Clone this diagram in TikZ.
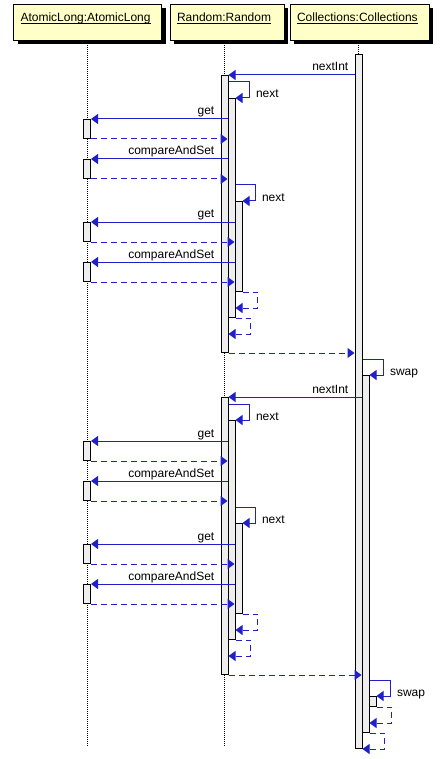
\documentclass[tikz,border=0pt]{standalone}
\usepackage{fontspec}
\setmainfont{Liberation Sans}
\usetikzlibrary{calc}
\usetikzlibrary{positioning}
\usetikzlibrary{shadows}
\usetikzlibrary{arrows.meta}
\definecolor{msgblue}{RGB}{32,32,200}
\definecolor{headyellow}{RGB}{255,255,200}
\definecolor{bargray}{RGB}{238,238,238}
\newcommand{\hdrul}[1]{\setbox0\hbox{#1}\rlap{\rule[-2.8pt]{\wd0}{0.9pt}}\box0}
\tikzset{
  head/.style={draw=black, line width=1pt, fill=headyellow, anchor=north west,
    inner xsep=7pt, inner ysep=0pt, text height=17pt, text depth=19pt, align=left,
    font=\fontsize{12}{14}\selectfont,
    general shadow={fill=black, shadow xshift=4pt, shadow yshift=-4pt}},
  bar/.style={draw=black, line width=1pt, fill=bargray, anchor=north,
    minimum width=7pt, inner sep=0pt},
  life/.style={line width=0.8pt, dash pattern=on 1pt off 1pt},
  msg/.style={draw=msgblue, line width=1pt, -{Triangle[length=7pt, width=10pt]}},
  ret/.style={msg, dash pattern=on 6pt off 4pt},
  lbl/.style={anchor=base east, inner sep=0pt, font=\fontsize{12}{14}\selectfont},
  selflbl/.style={anchor=base west, inner sep=0pt, xshift=6pt, font=\fontsize{12}{14}\selectfont}
}
\begin{document}
\begin{tikzpicture}[x=1pt, y=-1pt]
      \useasboundingbox (0,0) rectangle (442,759);
      \coordinate (bot) at (0,747);
      \coordinate (xr) at (224.5,0);
      \coordinate (xc) at (358.5,0);

      \node[head, text width=134pt] (al) at (13,4) {\hdrul{AtomicLong:AtomicLong}};
      \node[head, text width=100pt] (rd) at (169.5,4) {\hdrul{Random:Random}};
      \node[head, text width=125pt] (cl) at (289.5,4) {\hdrul{Collections:Collections}};

      \draw[life] (al.south) -- (al.south |- bot);
      \draw[life] (xr |- rd.south) -- (xr |- bot);
      \draw[life] (xc |- cl.south) -- (xc |- bot);

      \node[bar, minimum height=694pt] (c1) at (358.5,54) {};
      \node[bar, minimum height=357pt] (c2) at (365.5,375) {};
      \node[bar, minimum height=10pt] (c3) at (372.5,696) {};

      \foreach \k/\o in {1/0,2/322}{
        \node[bar, minimum height=277pt] (r\k) at (224.5,75+\o) {};
        \node[bar, minimum height=219pt] (rb\k) at (231.5,98+\o) {};
        \node[bar, minimum height=90pt] (rc\k) at (238.5,201+\o) {};
        \node[bar, minimum height=19pt] (ga\k) at (87,119+\o) {};
        \node[bar, minimum height=19pt] (sa\k) at (87,159+\o) {};
        \node[bar, minimum height=19pt] (gb\k) at (87,222+\o) {};
        \node[bar, minimum height=19pt] (sb\k) at (87,262+\o) {};

        \draw[msg] (c\k.west |- r\k.north) -- (r\k.north east);
        \node[lbl] (ni\k) at ($(xc |- r\k.north)+(-10,-4)$) {nextInt};
        \draw[msg] ($(rb\k.north -| r\k.east)+(0,-16)$) -- ++(21,0) -- ++(0,16)
          node[selflbl] (nx\k) {next} -- (rb\k.north east);
        \draw[msg] (rb\k.west |- ga\k.north) -- (ga\k.north east);
        \node[lbl] (lga\k) at ($(xr |- ga\k.north)+(-10,-4)$) {get};
        \draw[ret] (ga\k.south east) -- (ga\k.south -| rb\k.west);
        \draw[msg] (rb\k.west |- sa\k.north) -- (sa\k.north east);
        \node[lbl] (lsa\k) at ($(xr |- sa\k.north)+(-10,-4)$) {compareAndSet};
        \draw[ret] (sa\k.south east) -- (sa\k.south -| rb\k.west);
        \draw[msg] ($(rc\k.north -| rb\k.east)+(0,-16)$) -- ++(20,0) -- ++(0,16)
          node[selflbl] (ny\k) {next} -- (rc\k.north east);
        \draw[msg] (rc\k.west |- gb\k.north) -- (gb\k.north east);
        \node[lbl] (lgb\k) at ($(xr |- gb\k.north)+(-10,-4)$) {get};
        \draw[ret] (gb\k.south east) -- (gb\k.south -| rc\k.west);
        \draw[msg] (rc\k.west |- sb\k.north) -- (sb\k.north east);
        \node[lbl] (lsb\k) at ($(xr |- sb\k.north)+(-10,-4)$) {compareAndSet};
        \draw[ret] (sb\k.south east) -- (sb\k.south -| rc\k.west);
        \draw[ret] (rc\k.south east) -- ++(15,0) |- ($(rc\k.south -| rb\k.east)+(0,16)$);
        \draw[ret] (rb\k.south east) -- ++(15,0) |- ($(rb\k.south -| r\k.east)+(0,16)$);
        \draw[ret] (r\k.south east) -- (r\k.south -| c\k.west);
      }

      \draw[msg] ($(c2.north -| c1.east)+(0,-16)$) -- ++(21,0) -- ++(0,16)
        node[selflbl] (sw1) {swap} -- (c2.north east);
      \draw[msg] ($(c3.north -| c2.east)+(0,-16)$) -- ++(21,0) -- ++(0,16)
        node[selflbl] (sw2) {swap} -- (c3.north east);
      \draw[ret] (c3.south east) -- ++(15,0) |- ($(c3.south -| c2.east)+(0,16)$);
      \draw[ret] (c2.south east) -- ++(15,0) |- ($(c2.south -| c1.east)+(0,16)$);
\end{tikzpicture}
\end{document}
